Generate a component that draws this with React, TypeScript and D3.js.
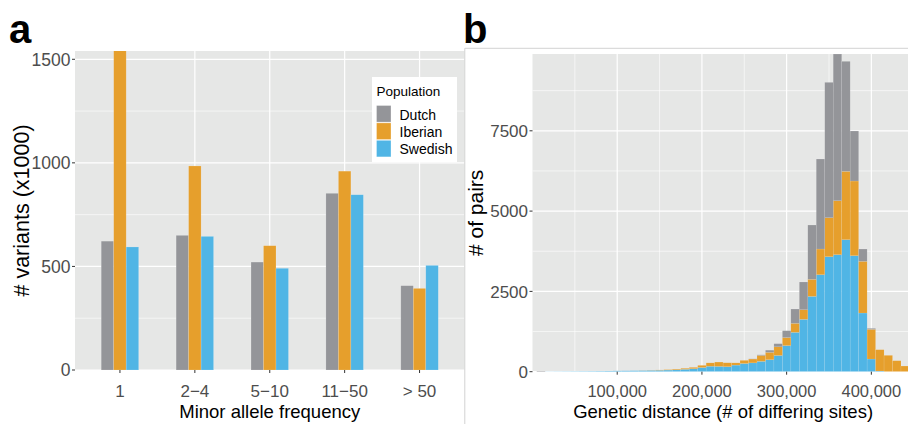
import React from 'react'
import * as d3 from 'd3'

// panel a: variants per minor allele frequency class
const mafClasses = ['1', '2−4', '5−10', '11−50', '> 50']
const populations = ['Dutch', 'Iberian', 'Swedish']
const dutchVariants = [622, 650, 521, 853, 407]
const iberianVariants = [1560, 985, 600, 960, 394]
const swedishVariants = [594, 645, 491, 846, 505]
const variantTicks = [0, 500, 1000, 1500]
const variantMinor = [250, 750, 1250]

// panel b: stacked histogram of pairwise genetic distance (bin width 10,000)
const binCenters = [
  10000, 20000, 30000, 40000, 50000, 60000, 70000, 80000, 90000, 100000,
  110000, 120000, 130000, 140000, 150000, 160000, 170000, 180000, 190000, 200000,
  210000, 220000, 230000, 240000, 250000, 260000, 270000, 280000, 290000, 300000,
  310000, 320000, 330000, 340000, 350000, 360000, 370000, 380000, 390000, 400000,
  410000, 420000, 430000, 440000,
]
const dutchPairs = [
  20, 0, 0, 0, 0, 0, 0, 0, 0, 0,
  0, 0, 0, 0, 0, 0, 0, 0, 0, 0,
  0, 0, 0, 0, 0, 6, 20, 68, 97, 214,
  446, 862, 1691, 2802, 4213, 4566, 3425, 1557, 384, 31,
  0, 0, 0, 0,
]
const iberianPairs = [
  0, 0, 0, 0, 0, 0, 0, 0, 0, 0,
  0, 0, 3, 5, 10, 15, 24, 30, 42, 67,
  105, 135, 122, 70, 98, 119, 183, 228, 270, 250,
  280, 301, 530, 799, 1215, 1681, 2127, 2324, 1608, 924,
  664, 509, 342, 176,
]
const swedishPairs = [
  0, 5, 7, 9, 11, 13, 15, 18, 22, 26,
  28, 31, 35, 40, 45, 50, 58, 75, 93, 130,
  170, 165, 156, 205, 255, 275, 322, 374, 505, 812,
  1225, 1629, 2345, 3020, 3580, 3643, 4110, 3612, 1827, 394,
  21, 0, 0, 0,
]
const pairTicks = [0, 2500, 5000, 7500]
const pairMinor = [1250, 3750, 6250, 8750]
const distTicks = [100000, 200000, 300000, 400000]
const distMinor = [50000, 150000, 250000, 350000]

const colors: Record<string, string> = {
  Dutch: '#949599',
  Iberian: '#E69F2C',
  Swedish: '#50B5E5',
}

const FONT = '"Liberation Sans", Arial, Helvetica, sans-serif'
const PANEL_BG = '#E6E7E6'
const TICK_TXT = '#4D4D4D'

const App = () => {
  const W = 908
  const H = 424

  // ---- panel a
  const a = { left: 75, right: 464.5, top: 51, bottom: 370 }
  const xA = d3.scaleBand().domain(mafClasses).range([a.left, a.right])
    .paddingInner(0.5).paddingOuter(0.35)
  const xPop = d3.scaleBand().domain(populations).range([0, xA.bandwidth()])
  const yA = d3.scaleLinear().domain([0, 1540]).range([a.bottom, a.top])
  const seriesA: Record<string, number[]> = {
    Dutch: dutchVariants,
    Iberian: iberianVariants,
    Swedish: swedishVariants,
  }

  // ---- panel b
  const b = { left: 532.5, right: 913.7, top: 54, bottom: 371.7 }
  const xB = d3.scaleLinear().domain([0, 450000]).range([b.left, b.right])
  const yB = d3.scaleLinear().domain([0, 9891]).range([b.bottom, b.top])
  const rows = binCenters.map((c, i) => ({
    center: c,
    Dutch: dutchPairs[i],
    Iberian: iberianPairs[i],
    Swedish: swedishPairs[i],
  }))
  const stacked = d3.stack<any>().keys(['Swedish', 'Iberian', 'Dutch'])(rows)
  const fmt = d3.format(',')

  return (
    <div style={{ position: 'absolute', left: 0, top: 0 }}>
      <svg width={W} height={H} style={{ display: 'block', fontFamily: FONT }}>
        <defs>
          <clipPath id="clipA">
            <rect x={a.left} y={a.top} width={a.right - a.left} height={a.bottom - a.top} />
          </clipPath>
          <clipPath id="clipB">
            <rect x={b.left} y={b.top} width={W - b.left} height={b.bottom - b.top} />
          </clipPath>
        </defs>
        <rect width={W} height={H} fill="#fff" />

        {/* panel labels */}
        <text x={9} y={42.5} fontSize={40} fontWeight="bold">a</text>
        <text x={463} y={42.5} fontSize={40} fontWeight="bold">b</text>

        {/* ===== panel a ===== */}
        <rect x={a.left} y={a.top} width={a.right - a.left} height={a.bottom - a.top} fill={PANEL_BG} />
        {variantMinor.map((v) => (
          <line key={'am' + v} x1={a.left} x2={a.right} y1={yA(v)} y2={yA(v)} stroke="#fff" strokeWidth={0.6} />
        ))}
        {variantTicks.map((v) => (
          <line key={'aM' + v} x1={a.left} x2={a.right} y1={yA(v)} y2={yA(v)} stroke="#fff" strokeWidth={1.2} />
        ))}
        {mafClasses.map((c) => {
          const cx = (xA(c) as number) + xA.bandwidth() / 2
          return <line key={'av' + c} x1={cx} x2={cx} y1={a.top} y2={a.bottom} stroke="#fff" strokeWidth={1.2} />
        })}
        <g clipPath="url(#clipA)">
          {populations.map((p) =>
            mafClasses.map((c, i) => {
              const x0 = (xA(c) as number) + (xPop(p) as number)
              return (
                <rect key={p + c} x={x0} y={yA(seriesA[p][i])} width={xPop.bandwidth()}
                  height={yA(0) - yA(seriesA[p][i])} fill={colors[p]}
                  stroke="rgba(255,255,255,0.25)" strokeWidth={0.6} />
              )
            }),
          )}
        </g>
        {/* axes a */}
        {variantTicks.map((v) => (
          <g key={'at' + v}>
            <line x1={a.left - 3} x2={a.left} y1={yA(v)} y2={yA(v)} stroke="#333" strokeWidth={1} />
            <text x={a.left - 4.5} y={yA(v)} dy="0.36em" textAnchor="end" fontSize={17.5} fill={TICK_TXT}>{v}</text>
          </g>
        ))}
        {mafClasses.map((c) => {
          const cx = (xA(c) as number) + xA.bandwidth() / 2
          return (
            <g key={'axt' + c}>
              <line x1={cx} x2={cx} y1={a.bottom} y2={a.bottom + 3} stroke="#333" strokeWidth={1} />
              <text x={cx} y={396.5} textAnchor="middle" fontSize={17} fill={TICK_TXT}>{c}</text>
            </g>
          )
        })}
        <text x={(a.left + a.right) / 2} y={417.5} textAnchor="middle" fontSize={18.5}>Minor allele frequency</text>
        <text transform={`translate(28.5,${(a.top + a.bottom) / 2}) rotate(-90)`} textAnchor="middle" fontSize={21.5}>
          # variants (x1000)
        </text>

        {/* legend */}
        <rect x={372} y={77} width={85} height={85} fill="#fff" />
        <text x={376.5} y={96} fontSize={13.5}>Population</text>
        {populations.map((p, i) => (
          <g key={'lg' + p}>
            <rect x={376.5} y={105.5 + i * 17.4} width={14.5} height={16.6} fill={colors[p]}
              stroke="rgba(255,255,255,0.5)" strokeWidth={0.6} />
            <text x={399.5} y={119.8 + i * 17.2} fontSize={14}>{p}</text>
          </g>
        ))}

        {/* separator lines of panel b frame */}
        <line x1={464.8} x2={464.8} y1={48.3} y2={H} stroke="#D2D2D2" strokeWidth={1} />
        <line x1={464.8} x2={W} y1={48.3} y2={48.3} stroke="#D2D2D2" strokeWidth={1} />

        {/* ===== panel b ===== */}
        <rect x={b.left} y={b.top} width={W - b.left} height={b.bottom - b.top} fill={PANEL_BG} />
        {pairMinor.map((v) => (
          <line key={'bm' + v} x1={b.left} x2={W} y1={yB(v)} y2={yB(v)} stroke="#fff" strokeWidth={0.6} />
        ))}
        {distMinor.map((v) => (
          <line key={'bvm' + v} x1={xB(v)} x2={xB(v)} y1={b.top} y2={b.bottom} stroke="#fff" strokeWidth={0.6} />
        ))}
        {pairTicks.map((v) => (
          <line key={'bM' + v} x1={b.left} x2={W} y1={yB(v)} y2={yB(v)} stroke="#fff" strokeWidth={1.2} />
        ))}
        {distTicks.map((v) => (
          <line key={'bvM' + v} x1={xB(v)} x2={xB(v)} y1={b.top} y2={b.bottom} stroke="#fff" strokeWidth={1.2} />
        ))}
        <g clipPath="url(#clipB)">
          {stacked.map((layer) =>
            layer.map((d, i) => {
              if (d[1] - d[0] <= 0) return null
              const c = binCenters[i]
              return (
                <rect key={layer.key + c} x={xB(c - 5000)} width={xB(c + 5000) - xB(c - 5000)}
                  y={yB(d[1])} height={yB(d[0]) - yB(d[1])} fill={colors[layer.key]}
                  stroke="rgba(255,255,255,0.18)" strokeWidth={0.5} />
              )
            }),
          )}
        </g>
        {pairTicks.map((v) => (
          <g key={'bt' + v}>
            <line x1={b.left - 3} x2={b.left} y1={yB(v)} y2={yB(v)} stroke="#333" strokeWidth={1} />
            <text x={b.left - 4.5} y={yB(v)} dy="0.36em" textAnchor="end" fontSize={17} fill={TICK_TXT}>{v}</text>
          </g>
        ))}
        {distTicks.map((v) => (
          <g key={'bxt' + v}>
            <line x1={xB(v)} x2={xB(v)} y1={b.bottom} y2={b.bottom + 3} stroke="#333" strokeWidth={1} />
            <text x={xB(v)} y={396.5} textAnchor="middle" fontSize={16.5} fill={TICK_TXT}>{fmt(v)}</text>
          </g>
        ))}
        <text x={(b.left + b.right) / 2} y={417.5} textAnchor="middle" fontSize={18.5}>
          Genetic distance (# of differing sites)
        </text>
        <text transform={`translate(483,${(b.top + b.bottom) / 2}) rotate(-90)`} textAnchor="middle" fontSize={21}>
          # of pairs
        </text>
      </svg>
    </div>
  )
}

export default App
